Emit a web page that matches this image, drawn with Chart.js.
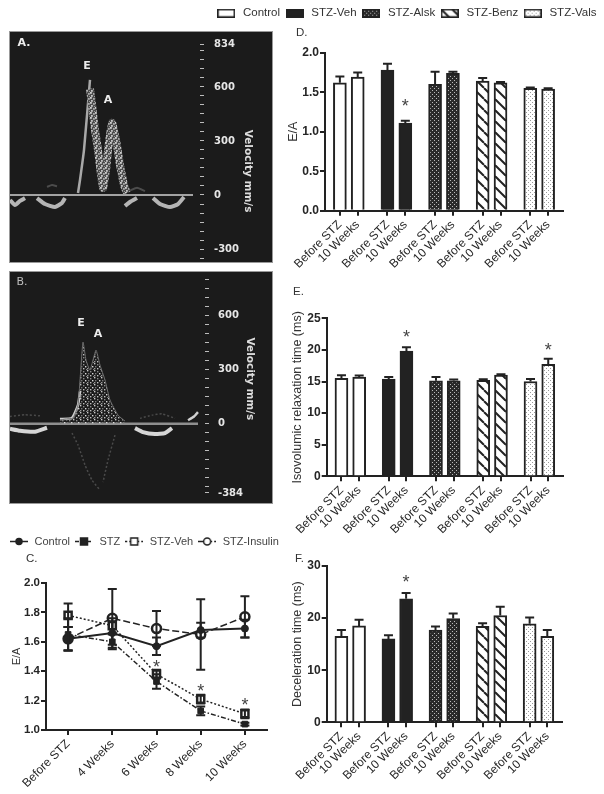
<!DOCTYPE html>
<html>
<head>
<meta charset="utf-8">
<style>
	html, body { margin: 0; padding: 0; background: #fff; }
	canvas { position: absolute; filter: blur(0.35px); }
	.tag { position: absolute; font: 11.5px "Liberation Sans"; color: #333; }
	#panelA, #panelB { background: #1b1b1b; outline: 1px solid #999; filter: blur(0.6px); }
</style>
<script src="https://cdn.jsdelivr.net/npm/chart.js@4"></script>
</head>
<body>
<canvas id="panelA" width="262" height="230" style="left:10px;top:32px"></canvas>
<canvas id="panelB" width="262" height="231" style="left:10px;top:272px"></canvas>
<canvas id="legendC" width="290" height="60" style="left:5px;top:532px"></canvas>
<canvas id="chartC" width="290" height="264" style="left:0;top:530px"></canvas>
<canvas id="legendD" width="416" height="60" style="left:184px;top:4px"></canvas>
<canvas id="chartD" width="318" height="282" style="left:286px;top:0"></canvas>
<canvas id="chartE" width="318" height="270" style="left:286px;top:280px"></canvas>
<canvas id="chartF" width="318" height="245" style="left:286px;top:549px"></canvas>
<div class="tag" style="left:26px;top:552px">C.</div>
<div class="tag" style="left:296px;top:26px">D.</div>
<div class="tag" style="left:293px;top:285px">E.</div>
<div class="tag" style="left:295px;top:552px">F.</div>
<script>
const FONT = 'Liberation Sans';
const INK = '#262626';

// --- doppler traces (time, velocity mm/s)
const ticksA = [834, 800, 750, 700, 650, 600, 550, 500, 450, 400, 350, 300, 250, 200, 150, 100, 50, 0, -50, -100, -150, -200, -250, -300, -350];
const labelsA = [834, 600, 300, 0, -300];
const armLeftTA = [68, 70, 74, 80];
const armLeftVA = [11, 83, 250, 639];
const armTA = [80, 82, 85, 88, 93, 96, 98, 102, 106, 110, 114, 117];
const armVA = [590, 500, 361, 250, 39, 139, 250, 400, 306, 167, 56, 11];
const lowTA = [0, 5, 10, 15, null, 27, 35, 45, 52, 55, null, 115, 120, 127, null, 143, 150, 160, 168, 174];
const lowVA = [-28, -56, -33, -17, null, -17, -50, -67, -44, -17, null, -61, -39, -17, null, -17, -50, -67, -50, -11];
const faintTA = [37, 42, 47, null, 120, 127, 135];
const faintVA = [45, 55, 48, null, 25, 40, 22];

const ticksB = [800, 750, 700, 650, 600, 550, 500, 450, 400, 350, 300, 250, 200, 150, 100, 50, 0, -50, -100, -150, -200, -250, -300, -350, -384];
const labelsB = [600, 300, 0, -384];
const envTB = [50, 55, 63, 68, 70, 73, 76, 80, 86, 90, 95, 100, 108, 115];
const envVB = [21, 26, 32, 104, 243, 454, 354, 298, 409, 326, 243, 132, 48, 15];
const edgeTB = [50, 62, 68, 70, null, 178, 184, 188];
const edgeVB = [26, 32, 104, 180, null, 20, 40, 65];
const lowTB = [0, 10, 25, 37, null, 125, 133, 145, 155, 162];
const lowVB = [-28, -39, -44, -22, null, -24, -46, -57, -52, -24];
const faintTB = [0, 15, 30, null, 130, 142, 152, 165, null, 62, 68, 75, 82, 90, null, 105, 98, 93];
const faintVB = [40, 50, 44, null, 30, 48, 55, 30, null, -52, -118, -229, -313, -368, null, -63, -202, -324];

// --- panel C
const weeks = ['Before STZ', '4 Weeks', '6 Weeks', '8 Weeks', '10 Weeks'];
const control = [1.62, 1.66, 1.57, 1.68, 1.69];
const controlErr = [0.08, 0.08, 0.06, 0.05, 0.06];
const stz = [1.65, 1.60, 1.33, 1.13, 1.04];
const stzErr = [0.11, 0.05, 0.05, 0.03, 0.01];
const stzVeh = [1.78, 1.71, 1.38, 1.21, 1.11];
const stzVehErr = [0.08, 0.05, 0.03, 0.03, 0.03];
const stzInsulin = [1.62, 1.76, 1.69, 1.65, 1.77];
const stzInsulinErr = [0.08, 0.20, 0.12, 0.24, 0.14];
const lineNames = ['Control', 'STZ', 'STZ-Veh', 'STZ-Insulin'];

// --- panels D, E, F
const barSlots = [2.5, 5.5, 10.5, 13.5, 18.5, 21.5, 26.5, 29.5, 34.5, 37.5];
const barLabels = ['Before STZ', '10 Weeks'];
const groupNames = ['Control', 'STZ-Veh', 'STZ-Alsk', 'STZ-Benz', 'STZ-Vals'];
const ratioEA = [1.62, 1.69, 1.78, 1.11, 1.60, 1.74, 1.64, 1.62, 1.55, 1.54];
const ratioEAErr = [0.08, 0.06, 0.08, 0.03, 0.16, 0.02, 0.04, 0.01, 0.01, 0.01];
const ivrt = [15.5, 15.7, 15.4, 19.8, 15.1, 15.1, 15.2, 16.0, 15.0, 17.7];
const ivrtErr = [0.5, 0.25, 0.3, 0.6, 0.6, 0.2, 0.15, 0.15, 0.4, 0.9];
const decel = [16.5, 18.5, 16.0, 23.7, 17.7, 19.9, 18.4, 20.5, 18.9, 16.5];
const decelErr = [1.2, 1.2, 0.7, 1.1, 0.7, 1.0, 0.6, 1.7, 1.2, 1.2];

Chart.defaults.font.family = FONT;
Chart.defaults.animation = false;

function xy(t, v) {
	return t.map(function(x, i) { return { x: x === null ? NaN : x, y: v[i] }; });
}

function makeTile(w, h, draw) {
	const c = document.createElement('canvas');
	c.width = w;
	c.height = h;
	draw(c.getContext('2d'));
	return c.getContext('2d').createPattern(c, 'repeat');
}

const speckle = makeTile(7, 7, function(g) {
	const dots = [[0, 0, '#c9c9c9'], [3, 1, '#8a8a8a'], [5, 3, '#d8d8d8'], [1, 3, '#777'], [3, 5, '#bdbdbd'], [6, 6, '#808080'], [0, 5, '#9a9a9a']];
	dots.forEach(function(d) {
		g.fillStyle = d[2];
		g.fillRect(d[0], d[1], 1.4, 1.4);
	});
});

const armFill = makeTile(5, 5, function(g) {
	g.fillStyle = '#4c4c4c';
	g.fillRect(0, 0, 5, 5);
	const dots = [[0, 0, '#d0d0d0'], [3, 1, '#a8a8a8'], [1, 3, '#c4c4c4'], [4, 4, '#9a9a9a']];
	dots.forEach(function(d) {
		g.fillStyle = d[2];
		g.fillRect(d[0], d[1], 1.8, 1.8);
	});
});

const alskFill = makeTile(4, 4, function(g) {
	g.fillStyle = '#2a2a2a';
	g.fillRect(0, 0, 4, 4);
	g.fillStyle = '#bbb';
	g.fillRect(0, 0, 1, 1);
	g.fillRect(2, 2, 1, 1);
});

const benzFill = makeTile(11, 11, function(g) {
	g.fillStyle = '#fff';
	g.fillRect(0, 0, 11, 11);
	g.strokeStyle = '#222';
	g.lineWidth = 2;
	[-11, 0, 11].forEach(function(o) {
		g.beginPath();
		g.moveTo(o, 0);
		g.lineTo(o + 11, 11);
		g.stroke();
	});
});

const valsFill = makeTile(4, 4, function(g) {
	g.fillStyle = '#fff';
	g.fillRect(0, 0, 4, 4);
	g.fillStyle = '#999';
	g.fillRect(0, 0, 1, 1);
	g.fillRect(2, 2, 1, 1);
});

const barFills = ['#fff', '#222', alskFill, benzFill, valsFill];

function boxIcon(fill) {
	const c = document.createElement('canvas');
	c.width = 18;
	c.height = 9;
	const g = c.getContext('2d');
	g.fillStyle = fill;
	g.fillRect(0, 0, 18, 9);
	g.strokeStyle = '#222';
	g.lineWidth = 1.6;
	g.strokeRect(0.8, 0.8, 16.4, 7.4);
	return c;
}

function lineIcon(dash, shape, open) {
	const c = document.createElement('canvas');
	c.width = 18;
	c.height = 11;
	const g = c.getContext('2d');
	g.strokeStyle = '#222';
	g.lineWidth = 1.5;
	g.setLineDash(dash);
	g.beginPath();
	g.moveTo(0, 5.5);
	g.lineTo(18, 5.5);
	g.stroke();
	g.setLineDash([]);
	g.fillStyle = open ? '#fff' : '#222';
	g.beginPath();
	if (shape === 'rect') g.rect(5.5, 2, 7, 7);
	else g.arc(9, 5.5, open ? 3.5 : 3, 0, Math.PI * 2);
	g.fill();
	g.stroke();
	return c;
}

// error bars, read from dataset.errors, placed through the chart's scales
Chart.register({
	id: 'errorBars',
	afterDatasetsDraw: function(chart) {
		const ctx = chart.ctx;
		const y = chart.scales.y;
		chart.data.datasets.forEach(function(ds, d) {
			if (!ds.errors) return;
			const pts = chart.getDatasetMeta(d).data;
			ctx.save();
			ctx.strokeStyle = '#222';
			ctx.lineWidth = 2;
			ds.errors.forEach(function(e, i) {
				const v = ds.data[i];
				const val = typeof v === 'object' ? v.y : v;
				const px = pts[i].x;
				const hi = y.getPixelForValue(val + e);
				const lo = ds.errorsBoth ? y.getPixelForValue(val - e) : y.getPixelForValue(val);
				ctx.beginPath();
				ctx.moveTo(px, lo);
				ctx.lineTo(px, hi);
				ctx.moveTo(px - 4.5, hi);
				ctx.lineTo(px + 4.5, hi);
				if (ds.errorsBoth) {
					ctx.moveTo(px - 4.5, lo);
					ctx.lineTo(px + 4.5, lo);
				}
				ctx.stroke();
			});
			ctx.restore();
		});
	}
});

// loose text (stars, E / A letters) placed in data units
Chart.register({
	id: 'textMarks',
	afterDraw: function(chart, args, opts) {
		const ctx = chart.ctx;
		(opts.items || []).forEach(function(m) {
			ctx.save();
			ctx.font = m.font;
			ctx.fillStyle = m.color;
			ctx.textAlign = 'center';
			ctx.textBaseline = 'middle';
			const px = m.right !== undefined ? chart.width - m.right : chart.scales.x.getPixelForValue(m.x);
			ctx.translate(px, chart.scales.y.getPixelForValue(m.y));
			if (m.rotate) ctx.rotate(m.rotate);
			ctx.fillText(m.text, 0, 0);
			ctx.restore();
		});
	}
});

// chart that only shows a legend, so it can be wider than the plot below it
function legendChart(id, items, cfg) {
	return new Chart(document.getElementById(id), {
		type: 'bar',
		data: { labels: [], datasets: [] },
		options: {
			responsive: false,
			plugins: {
				tooltip: { enabled: false },
				legend: {
					align: cfg.align,
					labels: {
						color: cfg.color,
						font: { size: cfg.size },
						padding: cfg.padding,
						usePointStyle: true,
						pointStyleWidth: cfg.iconW,
						generateLabels: function() {
							return items.map(function(t, i) {
								return { text: t, pointStyle: cfg.icons[i], fontColor: cfg.color, hidden: false, lineWidth: 0 };
							});
						}
					}
				}
			},
			scales: { x: { display: false }, y: { display: false } }
		}
	});
}

function dopplerChart(id, cfg) {
	const datasets = cfg.lines.map(function(l) {
		return {
			type: 'line',
			data: xy(l.t, l.v),
			borderColor: l.color,
			borderWidth: l.width,
			borderDash: l.dash || [],
			pointRadius: 0,
			fill: l.fill ? 'origin' : false,
			backgroundColor: l.fill || 'transparent',
			tension: 0.15
		};
	});
	return new Chart(document.getElementById(id), {
		type: 'line',
		data: { datasets: datasets },
		options: {
			responsive: false,
			layout: { autoPadding: false },
			plugins: {
				legend: { display: false },
				tooltip: { enabled: false },
				textMarks: { items: cfg.marks }
			},
			scales: {
				x: { type: 'linear', display: false, min: 0, max: cfg.maxT },
				y: {
					position: 'right',
					min: cfg.minV,
					max: cfg.maxV,
					border: { display: false },
					grid: { drawOnChartArea: false, drawTicks: true, tickLength: 4, color: '#bdbdbd', lineWidth: 1 },
					afterFit: function(axis) {
						axis.width = cfg.axisW;
						axis.paddingTop = 0;
						axis.paddingBottom = 0;
					},
					afterBuildTicks: function(axis) {
						axis.ticks = cfg.ticks.map(function(v) { return { value: v }; });
					},
					ticks: {
						autoSkip: false,
						padding: cfg.tickPad,
						color: '#e6e6e6',
						font: { family: 'DejaVu Sans', size: 10, weight: 'bold' },
						callback: function(v) { return cfg.labels.indexOf(v) >= 0 ? String(v) : ''; }
					}
				}
			}
		}
	});
}

const letter = { font: 'bold 11px "DejaVu Sans"', color: '#ededed' };

dopplerChart('panelA', {
	maxT: 190, minV: -372, maxV: 905, axisW: 72, tickPad: 10,
	ticks: ticksA, labels: labelsA,
	lines: [
		{ t: faintTA, v: faintVA, color: '#4c4c4c', width: 2 },
		{ t: armTA, v: armVA, color: armFill, width: 8 },
		{ t: armLeftTA, v: armLeftVA, color: '#a8a8a8', width: 2.5 },
		{ t: lowTA, v: lowVA, color: '#b5b5b5', width: 4 },
		{ t: [0, 183], v: [0, 0], color: '#a3a3a3', width: 2 }
	],
	marks: [
		Object.assign({ x: 14, y: 845, text: 'A.' }, letter),
		Object.assign({ x: 77, y: 717, text: 'E' }, letter),
		Object.assign({ x: 98, y: 528, text: 'A' }, letter),
		{ right: 24, y: 133, text: 'Velocity mm/s', rotate: Math.PI / 2, font: 'bold 10.5px "DejaVu Sans"', color: '#dcdcdc' }
	]
});

dopplerChart('panelB', {
	maxT: 195, minV: -440, maxV: 843, axisW: 67, tickPad: 9,
	ticks: ticksB, labels: labelsB,
	lines: [
		{ t: faintTB, v: faintVB, color: '#4a4a4a', width: 1.5, dash: [2, 2] },
		{ t: envTB, v: envVB, color: '#6d6d6d', width: 1, fill: speckle },
		{ t: edgeTB, v: edgeVB, color: '#d0d0d0', width: 2.5 },
		{ t: lowTB, v: lowVB, color: '#d6d6d6', width: 4 },
		{ t: [0, 188], v: [0, 0], color: '#8f8f8f', width: 2.5 }
	],
	marks: [
		Object.assign({ x: 12, y: 785, text: 'B.' }, { font: '11px "DejaVu Sans"', color: '#bdbdbd' }),
		Object.assign({ x: 71, y: 559, text: 'E' }, letter),
		Object.assign({ x: 88, y: 499, text: 'A' }, letter),
		{ right: 22, y: 249, text: 'Velocity mm/s', rotate: Math.PI / 2, font: 'bold 10.5px "DejaVu Sans"', color: '#dcdcdc' }
	]
});

// --- panel C
function weekLine(label, values, errs, dash, style, radius, open, width) {
	return {
		label: label,
		data: values,
		errors: errs,
		errorsBoth: true,
		borderColor: '#222',
		borderWidth: width,
		borderDash: dash,
		pointStyle: style,
		pointRadius: radius,
		pointBorderColor: '#222',
		pointBorderWidth: open ? 2.5 : 1,
		pointBackgroundColor: open ? '#fff' : '#222',
		tension: 0
	};
}

const axisTitleColor = '#333';

legendChart('legendC', lineNames, {
	align: 'start', color: '#444', size: 11, padding: 4, iconW: 20,
	icons: [lineIcon([], 'arc', false), lineIcon([4, 2], 'rect', false), lineIcon([2, 2], 'rect', true), lineIcon([6, 2], 'arc', true)]
});

new Chart(document.getElementById('chartC'), {
	type: 'line',
	data: {
		labels: weeks,
		datasets: [
			weekLine('Control', control, controlErr, [], 'circle', 3.5, false, 2),
			weekLine('STZ', stz, stzErr, [5, 2, 1.5, 2], 'rect', 4, false, 1.5),
			weekLine('STZ-Veh', stzVeh, stzVehErr, [2, 2], 'rect', 5, true, 1.5),
			weekLine('STZ-Insulin', stzInsulin, stzInsulinErr, [7, 3], 'circle', 4.5, true, 1.5)
		]
	},
	options: {
		responsive: false,
		layout: { autoPadding: false, padding: { top: 53, right: 23 } },
		plugins: {
			tooltip: { enabled: false },
			legend: { display: false },
			textMarks: {
				items: [2, 3, 4].map(function(x, i) {
					return { x: x, y: [1.42, 1.26, 1.16][i], text: '*', font: '18px "Liberation Sans"', color: '#444' };
				})
			}
		},
		scales: {
			x: {
				offset: true,
				border: { color: '#222', width: 2 },
				grid: { offset: false, drawOnChartArea: false, tickLength: 5, color: '#222', lineWidth: 2 },
				afterFit: function(axis) { axis.height = 64; },
				ticks: { autoSkip: false, minRotation: 45, maxRotation: 45, color: INK, font: { size: 12 }, padding: 2 }
			},
			y: {
				min: 1,
				max: 2,
				border: { color: '#222', width: 2 },
				grid: { drawOnChartArea: false, tickLength: 5, color: '#222', lineWidth: 2 },
				afterFit: function(axis) { axis.width = 46; },
				title: { display: true, text: 'E/A', color: axisTitleColor, font: { size: 11 }, padding: { top: 10 } },
				ticks: {
					stepSize: 0.2,
					color: INK,
					padding: 1,
					font: { size: 11.5, weight: 'bold' },
					callback: function(v) { return v.toFixed(1); }
				}
			}
		}
	}
});

// --- panels D, E, F
legendChart('legendD', groupNames, {
	align: 'end', color: '#333', size: 11.5, padding: 3.5, iconW: 22,
	icons: barFills.map(boxIcon)
});

function barChart(id, cfg) {
	const slotData = barSlots.map(function(s, i) { return { x: s, y: cfg.values[i] }; });
	const fills = barSlots.map(function(s, i) { return barFills[Math.floor(i / 2)]; });
	return new Chart(document.getElementById(id), {
		type: 'bar',
		data: {
			datasets: [{
				data: slotData,
				errors: cfg.errors,
				backgroundColor: fills,
				borderColor: '#222',
				borderWidth: 2,
				barThickness: 13,
				grouped: false
			}]
		},
		options: {
			responsive: false,
			layout: { autoPadding: false, padding: { top: cfg.top, right: cfg.right } },
			plugins: {
				tooltip: { enabled: false },
				legend: { display: false },
				textMarks: {
					items: cfg.stars.map(function(s) {
						return { x: barSlots[s[0]], y: s[1], text: '*', font: '18px "Liberation Sans"', color: '#444' };
					})
				}
			},
			scales: {
				x: {
					type: 'linear',
					min: 0,
					max: 40,
					offset: false,
					border: { color: '#222', width: 2 },
					grid: { offset: false, drawOnChartArea: false, tickLength: 5, color: '#222', lineWidth: 2 },
					afterFit: function(axis) { axis.height = cfg.bottom; },
					afterBuildTicks: function(axis) {
						axis.ticks = barSlots.map(function(v) { return { value: v }; });
					},
					ticks: {
						autoSkip: false,
						minRotation: 45,
						maxRotation: 45,
						color: INK,
						padding: 2,
						font: { size: 12 },
						callback: function(v, i) { return barLabels[i % 2]; }
					}
				},
				y: {
					min: 0,
					max: cfg.max,
					border: { color: '#222', width: 2 },
					grid: { drawOnChartArea: false, tickLength: 5, color: '#222', lineWidth: 2 },
					afterFit: function(axis) { axis.width = cfg.left; },
					title: { display: true, text: cfg.title, color: axisTitleColor, font: { size: 12.5 }, padding: { top: cfg.titlePad } },
					ticks: {
						stepSize: cfg.step,
						color: INK,
						padding: 1,
						font: { size: 12, weight: 'bold' },
						callback: cfg.fmt
					}
				}
			}
		}
	});
}

barChart('chartD', {
	values: ratioEA, errors: ratioEAErr, max: 2, step: 0.5, title: 'E/A',
	top: 52.7, bottom: 71.3, left: 39, right: 41, titlePad: 0,
	stars: [[3, 1.31]],
	fmt: function(v) { return v.toFixed(1); }
});

barChart('chartE', {
	values: ivrt, errors: ivrtErr, max: 25, step: 5, title: 'Isovolumic relaxation time (ms)',
	top: 38.3, bottom: 73.7, left: 40.7, right: 41, titlePad: 4,
	stars: [[3, 21.9], [9, 19.9]],
	fmt: function(v) { return v; }
});

barChart('chartF', {
	values: decel, errors: decelErr, max: 30, step: 10, title: 'Deceleration time (ms)',
	top: 17, bottom: 71.7, left: 40.7, right: 42, titlePad: 4,
	stars: [[3, 26.8]],
	fmt: function(v) { return v; }
});
</script>
</body>
</html>
